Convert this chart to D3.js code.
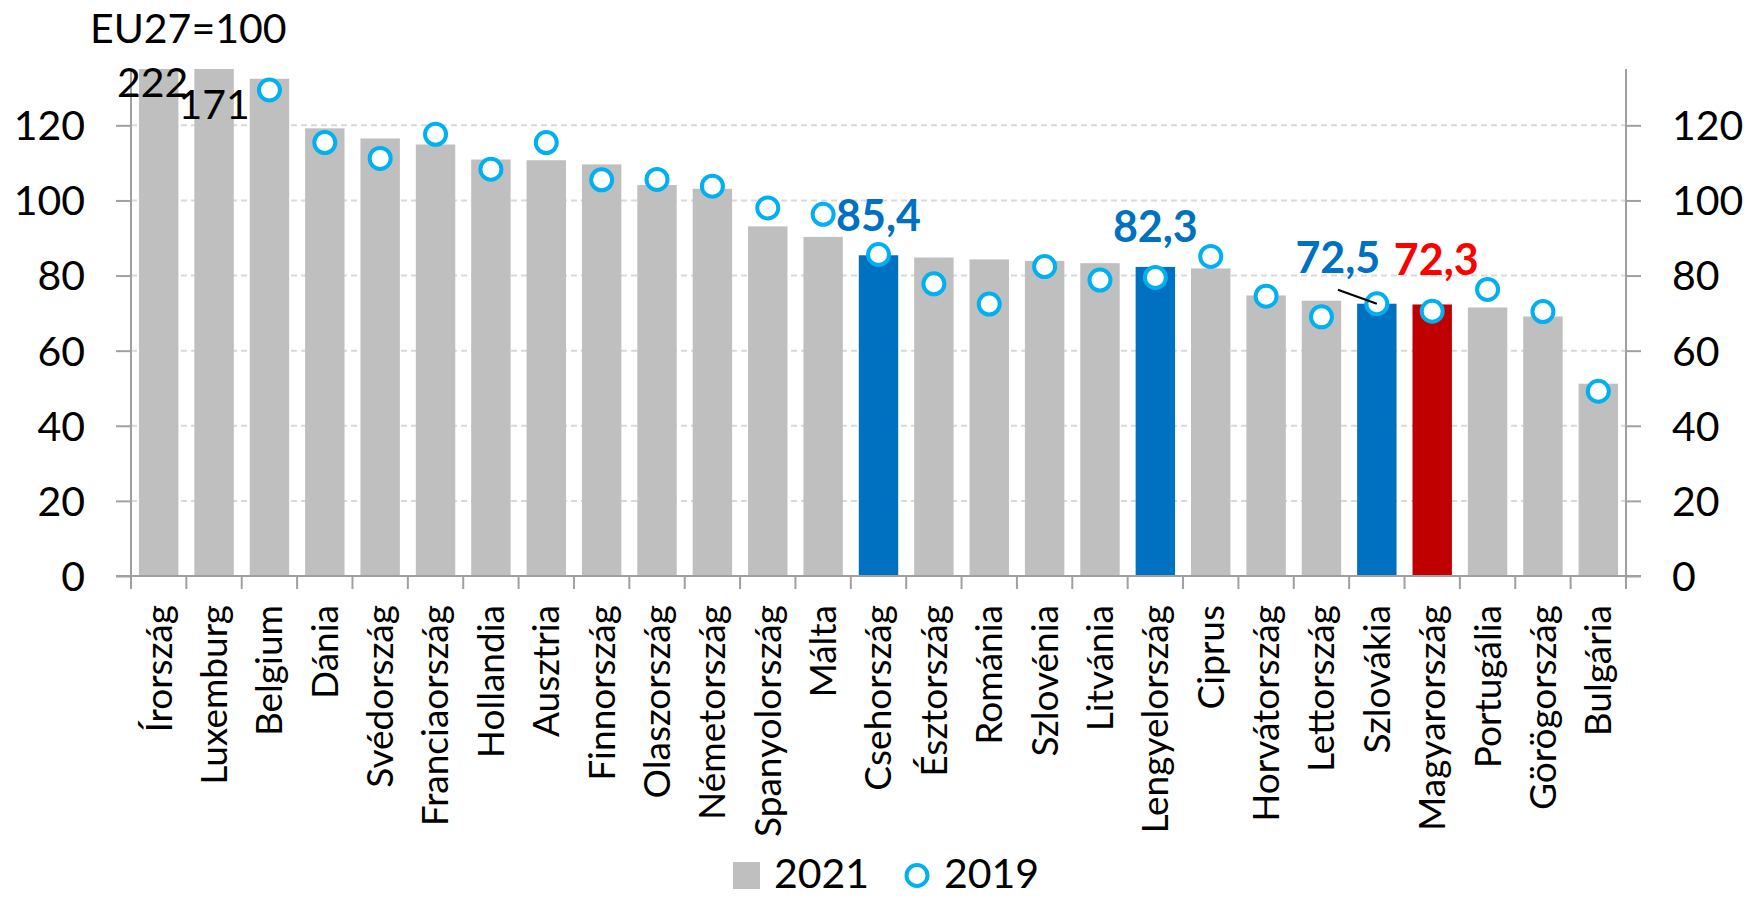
<!DOCTYPE html>
<html>
<head>
<meta charset="utf-8">
<script src="https://cdn.jsdelivr.net/npm/d3@7"></script>
<style>
	html, body { margin: 0; padding: 0; background: #fff; }
	svg text { font-family: Lato, "Open Sans", sans-serif; }
</style>
</head>
<body>
<div id="chart"></div>
<script>
var categories = ["Írország", "Luxemburg", "Belgium", "Dánia", "Svédország", "Franciaország", "Hollandia",
	"Ausztria", "Finnország", "Olaszország", "Németország", "Spanyolország", "Málta", "Csehország",
	"Észtország", "Románia", "Szlovénia", "Litvánia", "Lengyelország", "Ciprus", "Horvátország",
	"Lettország", "Szlovákia", "Magyarország", "Portugália", "Görögország", "Bulgária"];

// 2021 (bars)
var values2021 = [222, 171, 132.4, 119.2, 116.5, 114.9, 110.9, 110.7, 109.6, 104.1, 103.1, 93.1, 90.3, 85.4,
	84.8, 84.3, 83.9, 83.3, 82.3, 81.9, 74.7, 73.3, 72.5, 72.3, 71.5, 69.1, 51.2];

// 2019 (circles) - off the chart for the first two
var values2019 = [null, null, 129.4, 115.4, 111.2, 117.6, 108.3, 115.4, 105.5, 105.6, 103.8, 98.0, 96.3, 85.6,
	77.8, 72.4, 82.4, 78.8, 79.5, 85.1, 74.5, 69.0, 72.5, 70.5, 76.3, 70.4, 49.2];

var yTicks = [0, 20, 40, 60, 80, 100, 120];

var blueCountries = ["Csehország", "Lengyelország", "Szlovákia"];
var redCountries = ["Magyarország"];

// highlighted value labels
var labelCountries = ["Csehország", "Lengyelország", "Szlovákia", "Magyarország"];
var labelTexts = ["85,4", "82,3", "72,5", "72,3"];

// clipped bars get their value written next to the top
var clippedTexts = ["222", "171"];

var seriesNames = ["2021", "2019"];

var width = 1749, height = 898;
var margin = {top: 69, left: 131, right: 123, bottom: 322};
var yMax = 135;

var grey = "#BFBFBF", blue = "#0070C0", darkRed = "#C00000", red = "#FF0000", cyan = "#00B0F0", axisColor = "#A0A0A0";

var svg = d3.select("#chart").append("svg")
		.attr("width", width)
		.attr("height", height);

var x = d3.scaleBand()
		.domain(categories)
		.range([margin.left, width - margin.right])
		.paddingInner(0.288)
		.paddingOuter(0.144);

var y = d3.scaleLinear()
		.domain([0, yMax])
		.range([height - margin.bottom, margin.top]);

var step = x.step();
var x0 = margin.left, x1 = width - margin.right;

// Gridlines
svg.append("g").selectAll("line")
	.data(yTicks.filter(function(d) { return d > 0; }))
	.enter().append("line")
		.attr("x1", x0)
		.attr("x2", x1)
		.attr("y1", function(d) { return y(d); })
		.attr("y2", function(d) { return y(d); })
		.style("stroke", "#D9D9D9")
		.style("stroke-width", 2)
		.style("stroke-dasharray", "6,4");

// Bars
svg.append("g").selectAll("rect")
	.data(categories)
	.enter().append("rect")
		.attr("x", function(d) { return x(d); })
		.attr("width", x.bandwidth())
		.attr("y", function(d, i) { return y(Math.min(values2021[i], yMax)); })
		.attr("height", function(d, i) { return y(0) - y(Math.min(values2021[i], yMax)); })
		.style("fill", function(d) {
			if (redCountries.indexOf(d) >= 0) return darkRed;
			if (blueCountries.indexOf(d) >= 0) return blue;
			return grey;
		});

// Axes
var leftAxis = d3.axisLeft(y).tickValues(yTicks).tickSize(15).tickPadding(31);
var rightAxis = d3.axisRight(y).tickValues(yTicks).tickSize(15).tickPadding(31);

function styleAxis(g) {
	g.select(".domain").remove();
	g.selectAll(".tick line").style("stroke", axisColor).style("stroke-width", 2);
	g.selectAll(".tick text")
			.style("font-size", "41px")
			.attr("fill", "#000")
			.attr("dy", "0.35em");
}

svg.append("g")
		.attr("transform", "translate(" + x0 + ",0)")
		.call(leftAxis)
		.call(styleAxis);

svg.append("g")
		.attr("transform", "translate(" + x1 + ",0)")
		.call(rightAxis)
		.call(styleAxis);

// vertical axis lines
svg.append("g").selectAll("line")
	.data([x0, x1])
	.enter().append("line")
		.attr("x1", function(d) { return d; })
		.attr("x2", function(d) { return d; })
		.attr("y1", y(yMax))
		.attr("y2", y(0))
		.style("stroke", axisColor)
		.style("stroke-width", 2);

// category axis
svg.append("line")
		.attr("x1", x0 - 15)
		.attr("x2", x1 + 15)
		.attr("y1", y(0))
		.attr("y2", y(0))
		.style("stroke", axisColor)
		.style("stroke-width", 2);

svg.append("g").selectAll("line")
	.data(d3.range(categories.length + 1))
	.enter().append("line")
		.attr("x1", function(i) { return x0 + i * step; })
		.attr("x2", function(i) { return x0 + i * step; })
		.attr("y1", y(0))
		.attr("y2", y(0) + 13)
		.style("stroke", axisColor)
		.style("stroke-width", 2);

svg.append("g").selectAll("text")
	.data(categories)
	.enter().append("text")
		.attr("transform", function(d) { return "translate(" + (x(d) + x.bandwidth() / 2) + "," + (y(0) + 29) + ") rotate(-90)"; })
		.attr("dy", "0.35em")
		.style("text-anchor", "end")
		.style("font-size", "37px")
		.text(function(d) { return d; });

// 2019 circles
svg.append("g").selectAll("circle")
	.data(categories.filter(function(d, i) { return values2019[i] != null; }))
	.enter().append("circle")
		.attr("cx", function(d) { return x(d) + x.bandwidth() / 2; })
		.attr("cy", function(d) { return y(values2019[categories.indexOf(d)]); })
		.attr("r", 10.5)
		.style("fill", "#fff")
		.style("stroke", cyan)
		.style("stroke-width", 4);

// Clipped bar values
var clipOffsets = [{dx: -6, dy: 28}, {dx: 0, dy: 50}];
svg.append("g").selectAll("text")
	.data(clippedTexts)
	.enter().append("text")
		.attr("x", function(d, i) { return x(categories[i]) + x.bandwidth() / 2 + clipOffsets[i].dx; })
		.attr("y", function(d, i) { return y(yMax) + clipOffsets[i].dy; })
		.style("text-anchor", "middle")
		.style("font-size", "41px")
		.text(function(d) { return d; });

// Highlighted labels
var labelOffsets = [{dx: 0, dy: -24}, {dx: 0, dy: -25}, {dx: -39, dy: -31}, {dx: 4, dy: -29}];
var labelColors = [blue, blue, blue, red];

function labelX(i) {
	var c = labelCountries[i];
	return x(c) + x.bandwidth() / 2 + labelOffsets[i].dx;
}
function labelY(i) {
	var c = labelCountries[i];
	return y(values2021[categories.indexOf(c)]) + labelOffsets[i].dy;
}

// leader line for Szlovákia
var sk = labelCountries.indexOf("Szlovákia");
svg.append("line")
		.attr("x1", labelX(sk))
		.attr("y1", labelY(sk) + 17)
		.attr("x2", x("Szlovákia") + x.bandwidth() / 2)
		.attr("y2", y(values2021[categories.indexOf("Szlovákia")]))
		.style("stroke", "#000")
		.style("stroke-width", 2);

svg.append("g").selectAll("text")
	.data(labelTexts)
	.enter().append("text")
		.attr("x", function(d, i) { return labelX(i); })
		.attr("y", function(d, i) { return labelY(i); })
		.style("text-anchor", "middle")
		.style("font-size", "43px")
		.style("font-weight", "bold")
		.style("fill", function(d, i) { return labelColors[i]; })
		.text(function(d) { return d; });

// Unit label
svg.append("text")
		.attr("x", 90)
		.attr("y", 43)
		.style("font-size", "41px")
		.text("EU27=100");

// Legend
var legend = svg.append("g").attr("transform", "translate(733,862)");
legend.append("rect")
		.attr("width", 27)
		.attr("height", 27)
		.style("fill", grey);
legend.append("text")
		.attr("x", 41)
		.attr("y", 26)
		.style("font-size", "41px")
		.text(seriesNames[0]);
legend.append("circle")
		.attr("cx", 184)
		.attr("cy", 13.5)
		.attr("r", 10.5)
		.style("fill", "#fff")
		.style("stroke", cyan)
		.style("stroke-width", 4);
legend.append("text")
		.attr("x", 211)
		.attr("y", 26)
		.style("font-size", "41px")
		.text(seriesNames[1]);
</script>
</body>
</html>
